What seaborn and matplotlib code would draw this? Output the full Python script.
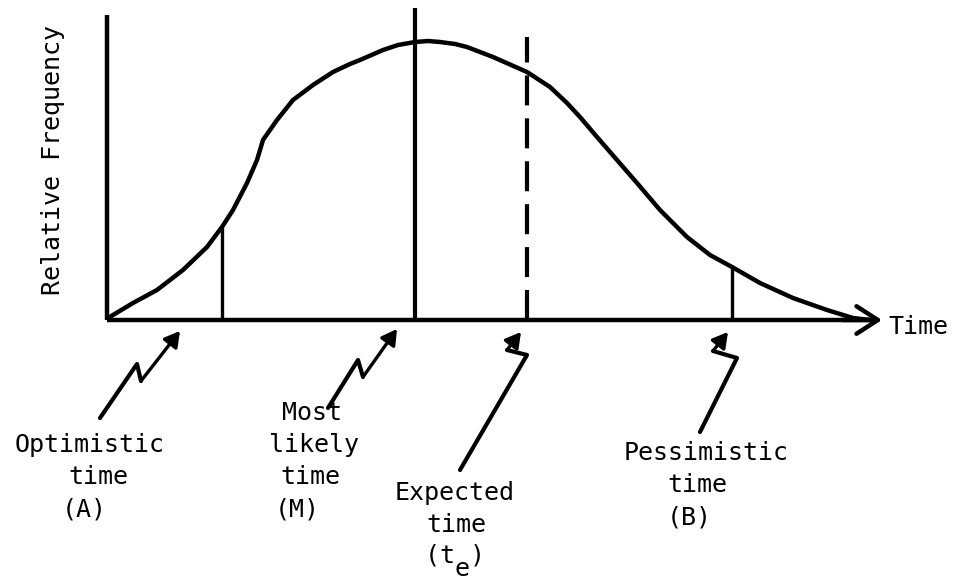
import numpy as np
import pandas as pd
import matplotlib
matplotlib.use("Agg")
import matplotlib.pyplot as plt
import seaborn as sns

# ------------------------------------------
# data (time / relative frequency)
# ------------------------------------------
curve_time = [1, 26, 50, 76, 100, 115, 126, 140, 150, 156, 170, 186, 206, 226, 243,
              253, 276, 291, 308, 321, 333, 348, 360, 386, 420, 443, 460, 473, 490,
              510, 530, 553, 580, 603, 625, 653, 686, 720, 746, 763]
curve_freq = [2, 17, 30, 50, 73, 93, 110, 137, 160, 180, 200, 220, 235, 248, 256,
              260, 270, 275, 278, 279, 278, 276, 273, 263, 248, 233, 217, 203, 183,
              160, 137, 110, 83, 65, 53, 37, 22, 10, 2, 0]

# estimate markers: optimistic, most likely, expected, pessimistic
marker_names = ["A", "M", "te", "B"]
marker_time = [115, 308, 420, 625]
marker_top = [93, 312, 283, 53]

axis_time_end = 775
axis_freq_end = 305

# squiggly pointer arrows under the time axis
arrow_A_t = [-7, 30, 34, 73]
arrow_A_f = [-98, -44, -61, -11]
arrow_M_t = [221, 251, 256, 290]
arrow_M_f = [-88, -40, -57, -9]
arrow_te_t = [353, 420, 400, 414]
arrow_te_f = [-150, -35, -30, -12]
arrow_B_t = [593, 630, 606, 621]
arrow_B_f = [-112, -38, -31, -12]

# ------------------------------------------
# style
# ------------------------------------------
sns.set_style("white")
plt.rcParams['font.family'] = ['DejaVu Sans Mono', 'DejaVu Sans']
plt.rcParams['text.color'] = 'black'

fig = plt.figure(figsize=(9.55, 5.81), dpi=100)
ax = fig.add_axes([0, 0, 1, 1])
ax.set_xlim(-107, 848)
ax.set_ylim(-261, 320)
ax.axis("off")

df = pd.DataFrame({"time": curve_time, "freq": curve_freq})
sns.lineplot(data=df, x="time", y="freq", color="black", lw=3.2, ax=ax,
             sort=False, solid_capstyle="round", solid_joinstyle="round")

# axes
ax.plot([0, 0], [0, axis_freq_end], color="black", lw=3.2, solid_capstyle="butt")
ax.plot([0, axis_time_end - 10], [0, 0], color="black", lw=3.2, solid_capstyle="butt")
ax.annotate("", xy=(axis_time_end, 0), xytext=(axis_time_end - 40, 0),
            arrowprops=dict(arrowstyle="->,head_length=0.7,head_width=0.45",
                            lw=3.2, color="black", mutation_scale=22,
                            shrinkA=0, shrinkB=0))

# vertical markers
solid_w = {"A": 2.4, "M": 3.0, "B": 2.4}
for name, t, top in zip(marker_names, marker_time, marker_top):
    if name == "te":
        ax.plot([t, t], [0, top], color="black", lw=3.0, ls=(0, (7.2, 3.1)),
                dash_capstyle="butt")
    else:
        ax.plot([t, t], [0, top], color="black", lw=solid_w[name],
                solid_capstyle="butt")

# pointer arrows
for xs, ys in [(arrow_A_t, arrow_A_f), (arrow_M_t, arrow_M_f),
               (arrow_te_t, arrow_te_f), (arrow_B_t, arrow_B_f)]:
    ax.plot(xs[:-1], ys[:-1], color="black", lw=3.0, solid_joinstyle="round",
            solid_capstyle="round")
    ax.annotate("", xy=(xs[-1], ys[-1]), xytext=(xs[-2], ys[-2]),
                arrowprops=dict(arrowstyle="-|>,head_length=0.7,head_width=0.4",
                                lw=2.4, color="black", mutation_scale=13,
                                shrinkA=0, shrinkB=0))

# texts
fs = 18
ax.text(-54, 160, "Relative Frequency", rotation=90, ha="center", va="center",
        fontsize=fs)
ax.text(781, -7, "Time", ha="left", va="center", fontsize=fs)

labels = [
    ("Optimistic", -17, -125), ("time", -9, -157), ("(A)", -23, -189),
    ("Most", 205, -93), ("likely", 207, -125), ("time", 203, -157), ("(M)", 190, -189),
    ("Expected", 348, -173), ("time", 349, -205), ("(t )", 348, -236),
    ("Pessimistic", 599, -133), ("time", 590, -165), ("(B)", 582, -197),
]
for s, x, y in labels:
    ax.text(x, y, s, ha="center", va="center", fontsize=fs)
ax.text(355, -249, "e", ha="center", va="center", fontsize=fs)

fig.savefig("out.png", dpi=100)
